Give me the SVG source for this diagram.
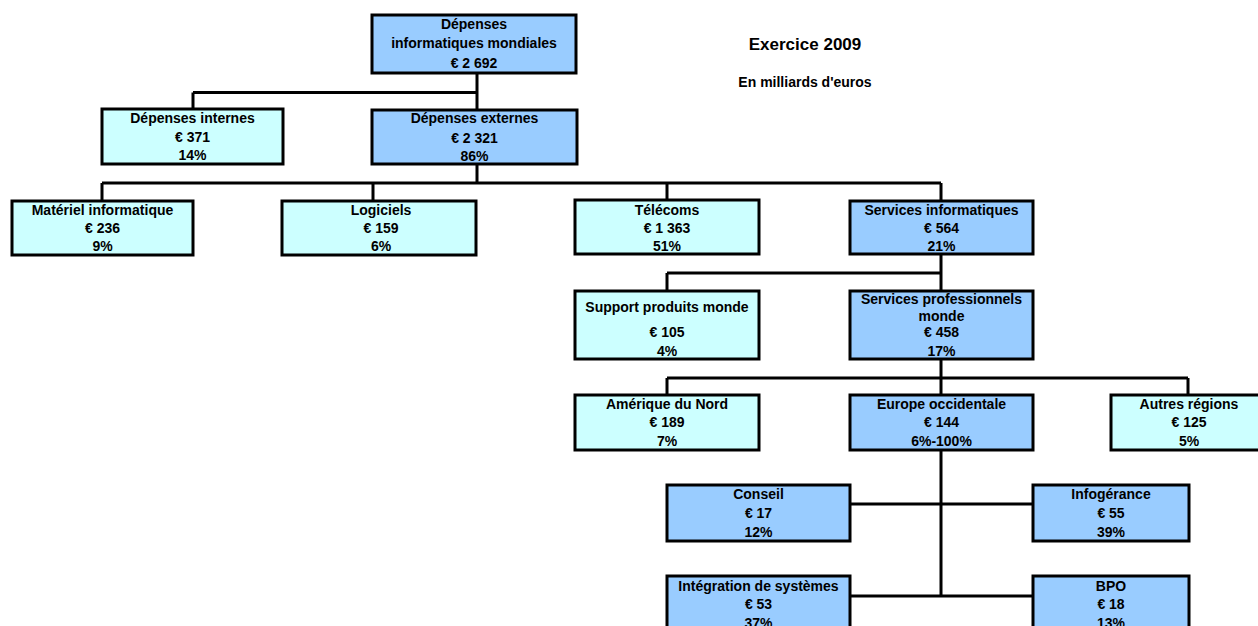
<svg xmlns="http://www.w3.org/2000/svg" width="1258" height="626" viewBox="0 0 1258 626">
<style>
.c{fill:#CCFFFF;stroke:#000;stroke-width:3}
.b{fill:#99CCFF;stroke:#000;stroke-width:3}
text{font-family:"Liberation Sans",Arial,sans-serif;font-weight:bold;font-size:14px;fill:#000;text-anchor:middle}
.t1{font-size:17px}
.t2{font-size:14px}
#connectors path{fill:none;stroke:#000;stroke-width:3}
</style>
<rect width="1258" height="626" fill="#fff"/>
<g id="connectors">
<path d="M477 73V110M193 92.5H477M193 92.5V109"/>
<path d="M477 164V183M102 183H941M102 183V201M373 183V201M667 183V200M941 183V201"/>
<path d="M941 254V291M667 273H941M667 273V291"/>
<path d="M941 359V395M667 378H1188M667 378V395M1188 378V395"/>
<path d="M941 450V596M850 504H1033M850 596H1033"/>
</g>
<g id="titles">
<text class="t1" x="805" y="50">Exercice 2009</text>
<text class="t2" x="805" y="87">En milliards d'euros</text>
</g>
<g id="n_mondiales"><rect class="b" x="372" y="15" width="204" height="58"/>
<text x="474" y="29">Dépenses</text><text x="474" y="48">informatiques mondiales</text><text x="474" y="68">€ 2 692</text></g>
<g id="n_internes"><rect class="c" x="102" y="109" width="181" height="55"/>
<text x="192.5" y="123">Dépenses internes</text><text x="192.5" y="141.5">€ 371</text><text x="192.5" y="160">14%</text></g>
<g id="n_externes"><rect class="b" x="372" y="110" width="205" height="54"/>
<text x="474.5" y="123">Dépenses externes</text><text x="474.5" y="142.5">€ 2 321</text><text x="474.5" y="161">86%</text></g>
<g id="n_materiel"><rect class="c" x="12" y="201" width="181" height="54"/>
<text x="102.5" y="215">Matériel informatique</text><text x="102.5" y="233">€ 236</text><text x="102.5" y="251">9%</text></g>
<g id="n_logiciels"><rect class="c" x="282" y="201" width="194" height="54"/>
<text x="381" y="215">Logiciels</text><text x="381" y="233">€ 159</text><text x="381" y="251">6%</text></g>
<g id="n_telecoms"><rect class="c" x="575" y="200" width="184" height="54"/>
<text x="667" y="215">Télécoms</text><text x="667" y="233">€ 1 363</text><text x="667" y="251">51%</text></g>
<g id="n_services_info"><rect class="b" x="850" y="201" width="183" height="53"/>
<text x="941.5" y="215">Services informatiques</text><text x="941.5" y="233">€ 564</text><text x="941.5" y="251">21%</text></g>
<g id="n_support"><rect class="c" x="575" y="291" width="184" height="68"/>
<text x="667" y="312">Support produits monde</text><text x="667" y="337">€ 105</text><text x="667" y="355.5">4%</text></g>
<g id="n_services_pro"><rect class="b" x="850" y="291" width="183" height="68"/>
<text x="941.5" y="304">Services professionnels</text><text x="941.5" y="321">monde</text><text x="941.5" y="337">€ 458</text><text x="941.5" y="355.5">17%</text></g>
<g id="n_amerique"><rect class="c" x="575" y="395" width="184" height="55"/>
<text x="667" y="409">Amérique du Nord</text><text x="667" y="427">€ 189</text><text x="667" y="445.5">7%</text></g>
<g id="n_europe"><rect class="b" x="850" y="395" width="183" height="55"/>
<text x="941.5" y="409">Europe occidentale</text><text x="941.5" y="427">€ 144</text><text x="941.5" y="445.5">6%-100%</text></g>
<g id="n_autres"><rect class="c" x="1111" y="395" width="156" height="55"/>
<text x="1189" y="409">Autres régions</text><text x="1189" y="427">€ 125</text><text x="1189" y="445.5">5%</text></g>
<g id="n_conseil"><rect class="b" x="667" y="485" width="183" height="56"/>
<text x="758.5" y="499">Conseil</text><text x="758.5" y="518">€ 17</text><text x="758.5" y="536.5">12%</text></g>
<g id="n_infogerance"><rect class="b" x="1033" y="485" width="156" height="56"/>
<text x="1111" y="499">Infogérance</text><text x="1111" y="518">€ 55</text><text x="1111" y="536.5">39%</text></g>
<g id="n_integration"><rect class="b" x="667" y="576" width="183" height="56"/>
<text x="758.5" y="590.5">Intégration de systèmes</text><text x="758.5" y="609">€ 53</text><text x="758.5" y="628">37%</text></g>
<g id="n_bpo"><rect class="b" x="1033" y="576" width="156" height="56"/>
<text x="1111" y="590.5">BPO</text><text x="1111" y="609">€ 18</text><text x="1111" y="628">13%</text></g>
</svg>
